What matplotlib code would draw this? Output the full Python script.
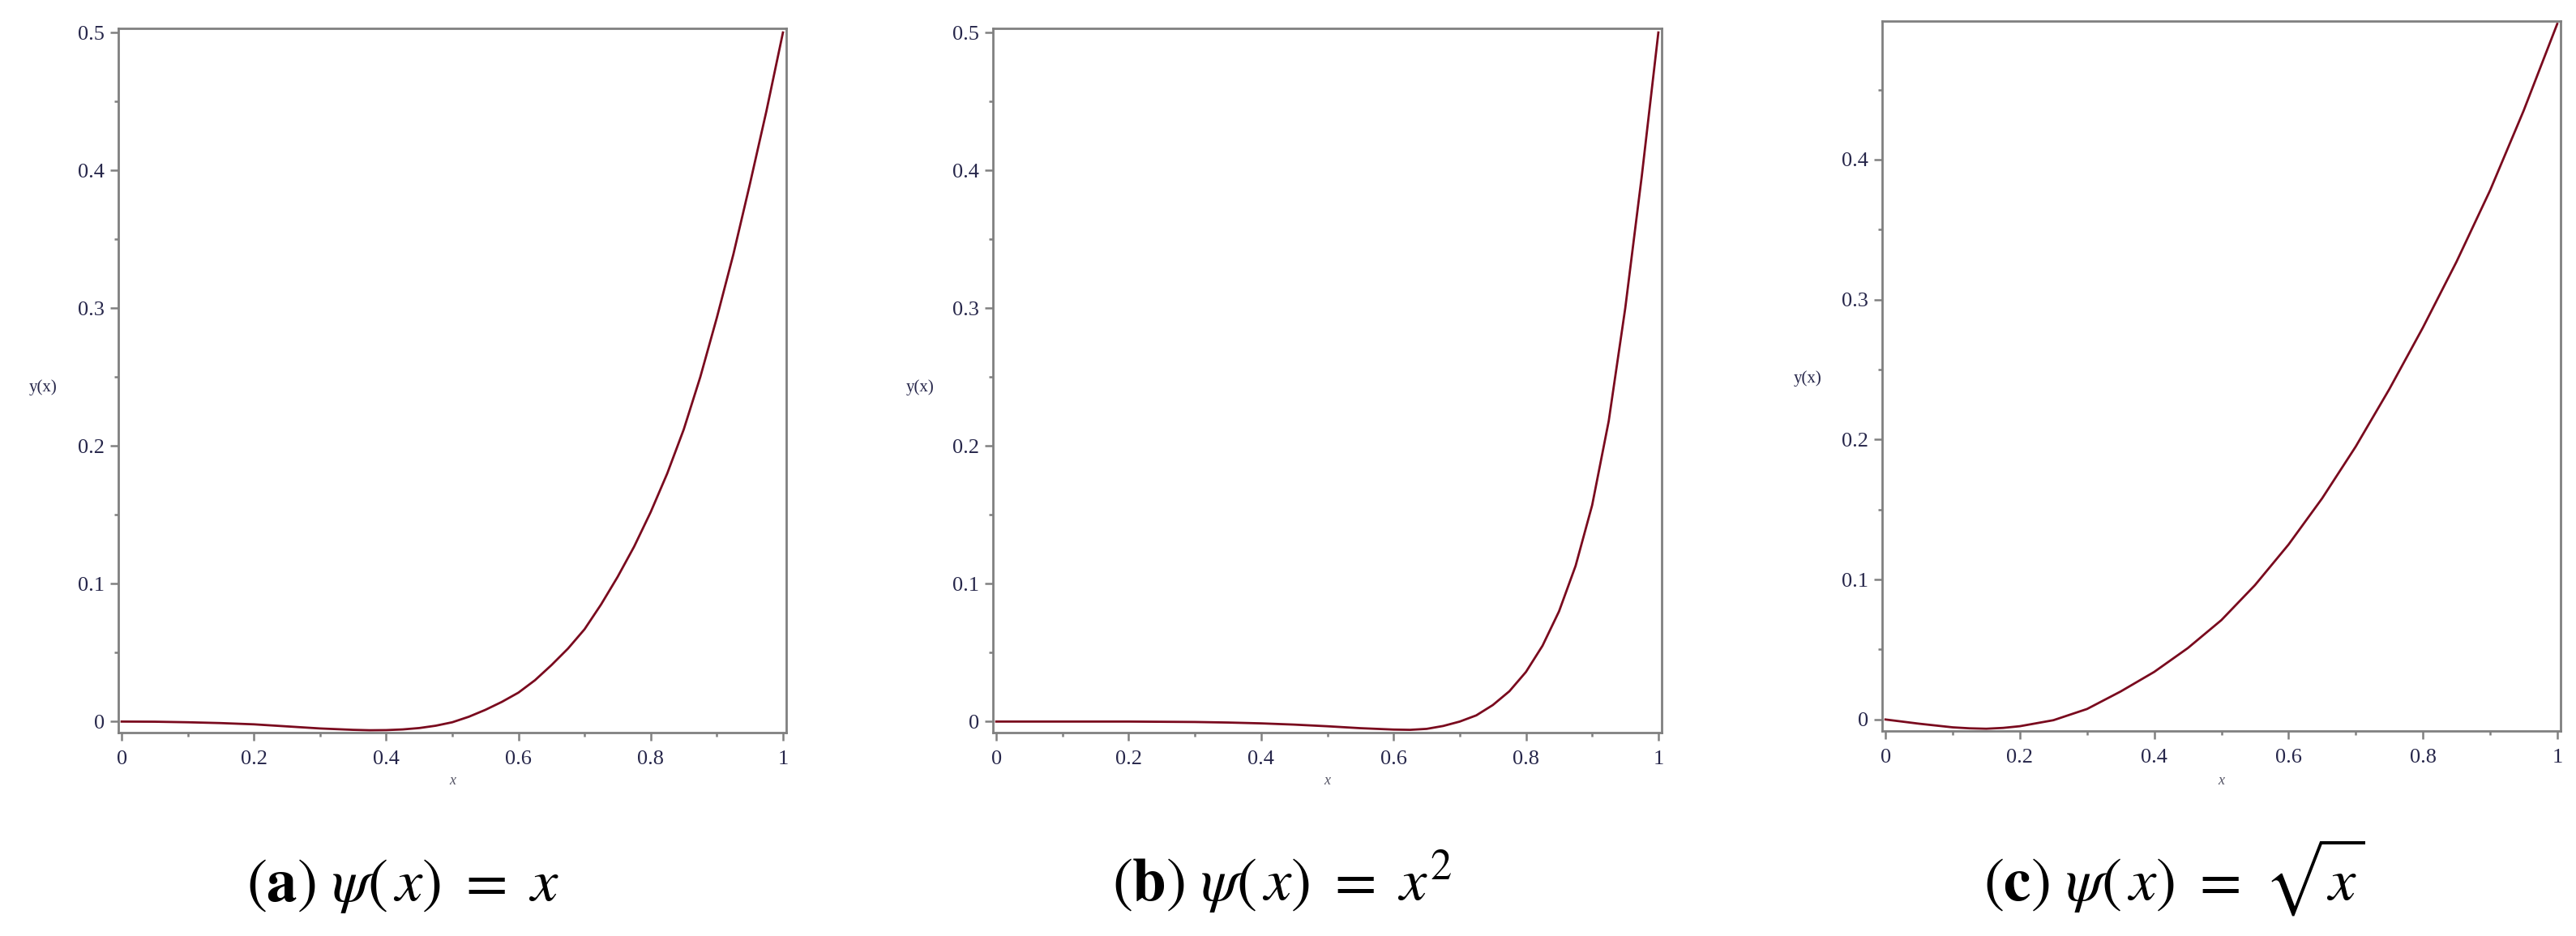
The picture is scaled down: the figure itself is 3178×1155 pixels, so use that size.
import matplotlib
matplotlib.use('Agg')
import matplotlib.pyplot as plt
from matplotlib.ticker import FixedLocator, MultipleLocator

plt.rcParams['font.family'] = ['Liberation Serif', 'DejaVu Serif']
plt.rcParams['mathtext.fontset'] = 'stix'

# valeurs
# (a) psi(x) = x
xa = [0, 0.05, 0.1, 0.15, 0.2, 0.25, 0.3, 0.35, 0.375, 0.4, 0.425, 0.45, 0.475, 0.5,
      0.525, 0.55, 0.575, 0.6, 0.625, 0.65, 0.675, 0.7, 0.725, 0.75, 0.775, 0.8,
      0.825, 0.85, 0.875, 0.9, 0.925, 0.95, 0.975, 1.0]
ya = [0, -0.0001, -0.0005, -0.0011, -0.0020, -0.0035, -0.0050, -0.0060, -0.0063, -0.0062,
      -0.0057, -0.0047, -0.0030, -0.0005, 0.0035, 0.0085, 0.0143, 0.021, 0.030, 0.041,
      0.053, 0.067, 0.085, 0.105, 0.127, 0.152, 0.180, 0.212, 0.250, 0.293, 0.339,
      0.390, 0.443, 0.5]

# (b) psi(x) = x^2
xb = [0, 0.1, 0.2, 0.3, 0.35, 0.4, 0.45, 0.5, 0.55, 0.6, 0.625, 0.65, 0.675, 0.7,
      0.725, 0.75, 0.775, 0.8, 0.825, 0.85, 0.875, 0.9, 0.925, 0.95, 0.975, 1.0]
yb = [0, 0, 0, -0.0003, -0.0007, -0.0013, -0.0022, -0.0034, -0.0048, -0.0058, -0.0060,
      -0.0053, -0.0032, 0.0, 0.0045, 0.012, 0.022, 0.036, 0.055, 0.080, 0.113, 0.157,
      0.218, 0.300, 0.396, 0.5]

# (c) psi(x) = sqrt(x)
xc = [0, 0.05, 0.1, 0.125, 0.15, 0.175, 0.2, 0.25, 0.3, 0.35, 0.4, 0.45, 0.5, 0.55,
      0.6, 0.65, 0.7, 0.75, 0.8, 0.85, 0.9, 0.95, 1.0]
yc = [0, -0.0030, -0.0056, -0.0063, -0.0066, -0.0060, -0.0048, -0.0005, 0.0075, 0.020,
      0.034, 0.051, 0.071, 0.096, 0.125, 0.158, 0.195, 0.236, 0.280, 0.327, 0.378,
      0.435, 0.497]

x_ticks = [0, 0.2, 0.4, 0.6, 0.8, 1.0]
x_tick_labels = ['0', '0.2', '0.4', '0.6', '0.8', '1']
y_ticks_ab = [0, 0.1, 0.2, 0.3, 0.4, 0.5]
y_tick_labels_ab = ['0', '0.1', '0.2', '0.3', '0.4', '0.5']
y_ticks_c = [0, 0.1, 0.2, 0.3, 0.4]
y_tick_labels_c = ['0', '0.1', '0.2', '0.3', '0.4']

captions = [r'$(\mathbf{a})\ \psi(\,x)\ =\ x$',
            r'$(\mathbf{b})\ \psi(\,x)\ =\ x^2$',
            r'$(\mathbf{c})\ \psi(\,x)\ =\ \sqrt{x}$']

W, H = 3178, 1155
fig = plt.figure(figsize=(W / 100, H / 100), dpi=100)


def box(l, r, t, b):
    return [l / W, 1 - b / H, (r - l) / W, (b - t) / H]


line_col = '#7a0a1e'
axis_col = '#808080'
txt_col = '#26264a'

panels = [
    (xa, ya, box(146, 970, 35, 904), (-0.008, 0.503), y_ticks_ab, y_tick_labels_ab, 53, 478, 497),
    (xb, yb, box(1225, 2050, 35, 904), (-0.008, 0.503), y_ticks_ab, y_tick_labels_ab, 1135, 478, 1582),
    (xc, yc, box(2322, 3159, 26, 902), (-0.0082, 0.499), y_ticks_c, y_tick_labels_c, 2230, 467, 2682),
]

for i, (xs, ys, pos, ylim, yt, ytl, ylx, yly, capx) in enumerate(panels):
    ax = fig.add_axes(pos)
    ax.plot(xs, ys, color=line_col, lw=2.0)
    ax.set_xlim(-0.005, 1.005)
    ax.set_ylim(*ylim)

    ax.xaxis.set_major_locator(FixedLocator(x_ticks))
    ax.set_xticklabels(x_tick_labels)
    ax.xaxis.set_minor_locator(MultipleLocator(0.1))
    ax.yaxis.set_major_locator(FixedLocator(yt))
    ax.set_yticklabels(ytl)
    ax.yaxis.set_minor_locator(MultipleLocator(0.05))

    for s in ax.spines.values():
        s.set_color(axis_col)
        s.set_linewidth(2.0)
    ax.tick_params(which='major', direction='out', length=7, width=1.8, color=axis_col,
                   labelsize=19, labelcolor=txt_col)
    ax.tick_params(which='minor', direction='out', length=3.5, width=1.8, color=axis_col)
    ax.tick_params(axis='x', which='major', pad=9)
    ax.tick_params(axis='y', which='major', pad=5)

    # etiquettes d'axes
    fig.text(ylx / W, 1 - yly / H, 'y(x)', fontsize=15, color=txt_col, ha='center', va='center')
    xc_mid = (pos[0] + pos[2] / 2)
    fig.text(xc_mid, 1 - 963 / H, 'x', fontsize=13, style='italic', color='#555566',
             ha='center', va='center')

    # legende du sous-graphique
    fig.text(capx / W, 1 - 1112 / H, captions[i], fontsize=54, color='black',
             ha='center', va='baseline')

fig.savefig('out.png', dpi=100, facecolor='white')
